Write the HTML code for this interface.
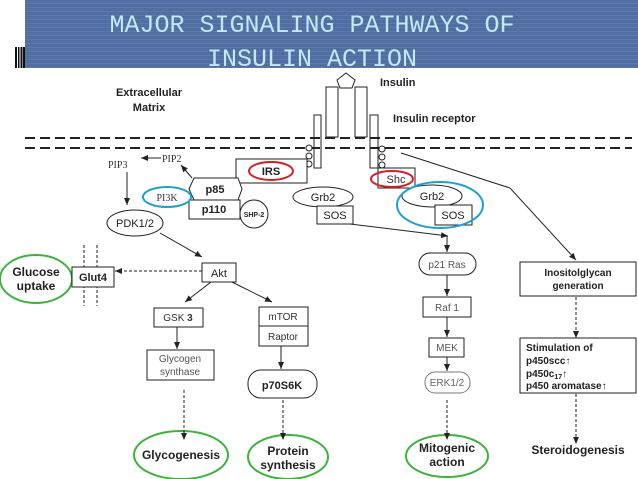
<!DOCTYPE html>
<html><head><meta charset="utf-8"><style>
html,body{margin:0;padding:0;background:#fff;width:638px;height:479px;overflow:hidden}
svg{display:block}
text{font-family:"Liberation Sans",Arial,sans-serif}
</style></head><body>
<svg width="638" height="479" viewBox="0 0 638 479" xmlns="http://www.w3.org/2000/svg">
<defs>
<pattern id="st" width="4" height="4" patternUnits="userSpaceOnUse"><rect width="4" height="4" fill="#516ea2"/><rect y="3" width="4" height="1" fill="#5d79ab"/></pattern>
<marker id="a" markerWidth="8" markerHeight="8" refX="7" refY="4" orient="auto" markerUnits="userSpaceOnUse"><path d="M0,1 L7,4 L0,7z" fill="#222"/></marker>
</defs>
<rect x="25" y="0" width="613" height="68" fill="url(#st)"/>
<g fill="#111"><rect x="15" y="47" width="2" height="21"/><rect x="18" y="47" width="1.5" height="21"/><rect x="20.5" y="47" width="2" height="21"/><rect x="23" y="47" width="2" height="21"/></g>
<g font-size="25" fill="#c4e8f6" text-anchor="middle">
<text x="312" y="32" style="font-family:'Liberation Mono',monospace">MAJOR SIGNALING PATHWAYS OF</text>
<text x="312" y="66" style="font-family:'Liberation Mono',monospace">INSULIN ACTION</text>
</g>
<g stroke="#222" fill="none" stroke-width="1">
<path d="M346,73 L355,80 L352,88 L340,88 L337,80z" fill="#fff"/>
<rect x="326" y="87" width="12" height="50" fill="#fff"/>
<rect x="355" y="87" width="12" height="50" fill="#fff"/>
<rect x="314" y="115" width="7" height="53" fill="#fff"/>
<rect x="370" y="115" width="8" height="53" fill="#fff"/>
</g>
<g stroke="#222" stroke-width="2" stroke-dasharray="10,5"><line x1="25" y1="138" x2="632" y2="138"/><line x1="25" y1="148" x2="632" y2="148"/></g>
<g stroke="#222" fill="#fff" stroke-width="1">
<circle cx="309" cy="148" r="3"/><circle cx="309" cy="156" r="3"/><circle cx="309" cy="164" r="3"/>
<circle cx="382" cy="149" r="3"/><circle cx="382" cy="157" r="3"/><circle cx="382" cy="165" r="3"/>
<rect x="236" y="159" width="71" height="24"/>
<rect x="378" y="168" width="37" height="20"/>
<path d="M194,178 L238,178 L242,189 L238,200 L194,200 L189,189z"/>
<rect x="189" y="200" width="51" height="19"/>
<circle cx="254" cy="214" r="14"/>
<ellipse cx="135" cy="223" rx="28" ry="13"/>
<ellipse cx="323" cy="197" rx="30" ry="10"/>
<rect x="317" y="206" width="36" height="18"/>
<ellipse cx="432" cy="196" rx="30" ry="11"/>
<rect x="435" y="205" width="37" height="20"/>
<rect x="202" y="263" width="34" height="19"/>
<rect x="154" y="308" width="49" height="19"/>
<rect x="259" y="307" width="49" height="19"/>
<rect x="259" y="326" width="49" height="20"/>
<rect x="147" y="350" width="67" height="30"/>
<rect x="248" y="370" width="69" height="28" rx="13"/>
<rect x="419" y="253" width="57" height="22" rx="11"/>
<rect x="423" y="297" width="48" height="20"/>
<rect x="429" y="338" width="35" height="19"/>
<rect x="425" y="372" width="45" height="21" rx="10" stroke="#777"/>
<rect x="520" y="262" width="116" height="34"/>
<rect x="520" y="338" width="116" height="55"/>
</g>
<g stroke="#d42020" stroke-width="2" fill="none"><ellipse cx="271" cy="171" rx="22" ry="9"/><ellipse cx="392" cy="179" rx="21" ry="8"/></g>
<g stroke="#1ea0d0" stroke-width="2" fill="none"><ellipse cx="167" cy="197" rx="24" ry="10"/><ellipse cx="440" cy="205" rx="43" ry="23"/></g>
<g stroke="#3cb43c" stroke-width="2" fill="none">
<ellipse cx="36" cy="279" rx="36" ry="24"/>
<ellipse cx="181" cy="455" rx="47" ry="24"/>
<ellipse cx="288" cy="457" rx="40" ry="22"/>
<ellipse cx="447" cy="456" rx="41" ry="21"/>
</g>
<g stroke="#222" stroke-width="1" stroke-dasharray="3,2"><line x1="84" y1="245" x2="84" y2="306"/><line x1="97" y1="245" x2="97" y2="306"/></g>
<rect x="72" y="267" width="42" height="20" fill="#fff" stroke="#222"/>
<g stroke="#222" stroke-width="1" fill="none" marker-end="url(#a)">
<line x1="161" y1="158" x2="141" y2="158"/>
<line x1="192" y1="178" x2="181" y2="165"/>
<line x1="127" y1="172" x2="127" y2="205"/>
<line x1="160" y1="233" x2="202" y2="257"/>
<line x1="350" y1="224" x2="448" y2="236"/>
<line x1="447" y1="236" x2="447" y2="252"/>
<polyline points="401,153 510,188 576,260"/>
<line x1="211" y1="282" x2="185" y2="302"/>
<line x1="232" y1="282" x2="272" y2="302"/>
<line x1="177" y1="327" x2="177" y2="349"/>
<line x1="281" y1="346" x2="281" y2="369"/>
<line x1="447" y1="275" x2="447" y2="296"/>
<line x1="447" y1="317" x2="447" y2="337"/>
<line x1="447" y1="357" x2="447" y2="371"/>
</g>
<g stroke="#222" stroke-width="1" fill="none" stroke-dasharray="3,2" marker-end="url(#a)">
<line x1="202" y1="271" x2="115" y2="271"/>
<line x1="184" y1="390" x2="184" y2="440"/>
<line x1="283" y1="400" x2="283" y2="440"/>
<line x1="447" y1="400" x2="447" y2="440"/>
<line x1="576" y1="297" x2="576" y2="338"/>
<line x1="576" y1="394" x2="576" y2="444"/>
</g>
<g fill="#222" style="font-weight:bold;font-size:11px">
<text x="380" y="86">Insulin</text>
<text x="149" y="96" text-anchor="middle">Extracellular</text>
<text x="149" y="111" text-anchor="middle">Matrix</text>
<text x="393" y="122">Insulin receptor</text>
<text x="271" y="175" text-anchor="middle">IRS</text>
<text x="215" y="193" text-anchor="middle">p85</text>
<text x="214" y="213" text-anchor="middle">p110</text>
<text x="254" y="217" text-anchor="middle" style="font-size:7px">SHP-2</text>
<text x="135" y="227" text-anchor="middle" style="font-weight:normal">PDK1/2</text>
<text x="323" y="201" text-anchor="middle" style="font-weight:normal">Grb2</text>
<text x="335" y="219" text-anchor="middle" style="font-weight:normal">SOS</text>
<text x="432" y="200" text-anchor="middle" style="font-weight:normal">Grb2</text>
<text x="453" y="219" text-anchor="middle" style="font-weight:normal">SOS</text>
<text x="219" y="277" text-anchor="middle" style="font-weight:normal">Akt</text>
<text x="93" y="281" text-anchor="middle">Glut4</text>
<text x="36" y="276" text-anchor="middle" style="font-size:12px">Glucose</text>
<text x="36" y="290" text-anchor="middle" style="font-size:12px">uptake</text>
<text x="282" y="389" text-anchor="middle">p70S6K</text>
<text x="181" y="459" text-anchor="middle" style="font-size:12px">Glycogenesis</text>
<text x="288" y="455" text-anchor="middle" style="font-size:12px">Protein</text>
<text x="288" y="469" text-anchor="middle" style="font-size:12px">synthesis</text>
<text x="447" y="452" text-anchor="middle" style="font-size:12px">Mitogenic</text>
<text x="447" y="466" text-anchor="middle" style="font-size:12px">action</text>
<text x="578" y="454" text-anchor="middle" style="font-size:12px">Steroidogenesis</text>
<text x="578" y="276" text-anchor="middle" style="font-size:10px">Inositolglycan</text>
<text x="578" y="289" text-anchor="middle" style="font-size:10px">generation</text>
<text x="526" y="351" style="font-size:10px">Stimulation of</text>
<text x="526" y="364" style="font-size:10px">p450scc↑</text>
<text x="526" y="377" style="font-size:10px">p450c<tspan font-size="7" dy="2">17</tspan><tspan dy="-2">↑</tspan></text>
<text x="526" y="389" style="font-size:10px">p450 aromatase↑</text>
</g>
<g fill="#333" style="font-size:10px">
<text x="108" y="168" style="font-family:'Liberation Serif',serif;font-size:10px">PIP3</text>
<text x="162" y="162" style="font-family:'Liberation Serif',serif;font-size:10px">PIP2</text>
<text x="167" y="201" text-anchor="middle" style="font-family:'Liberation Serif',serif;font-size:10px">PI3K</text>
<text x="396" y="183" text-anchor="middle" style="font-size:11px">Shc</text>
<text x="178" y="321" text-anchor="middle">GSK <tspan font-weight="bold">3</tspan></text>
<text x="283" y="320" text-anchor="middle">mTOR</text>
<text x="283" y="340" text-anchor="middle">Raptor</text>
<text x="180" y="362" text-anchor="middle" fill="#555">Glycogen</text>
<text x="180" y="375" text-anchor="middle" fill="#555">synthase</text>
<text x="447" y="268" text-anchor="middle" fill="#555">p21 Ras</text>
<text x="447" y="311" text-anchor="middle" fill="#555">Raf 1</text>
<text x="447" y="351" text-anchor="middle" fill="#555">MEK</text>
<text x="447" y="386" text-anchor="middle" fill="#666">ERK1/2</text>
</g>
</svg>
</body></html>
